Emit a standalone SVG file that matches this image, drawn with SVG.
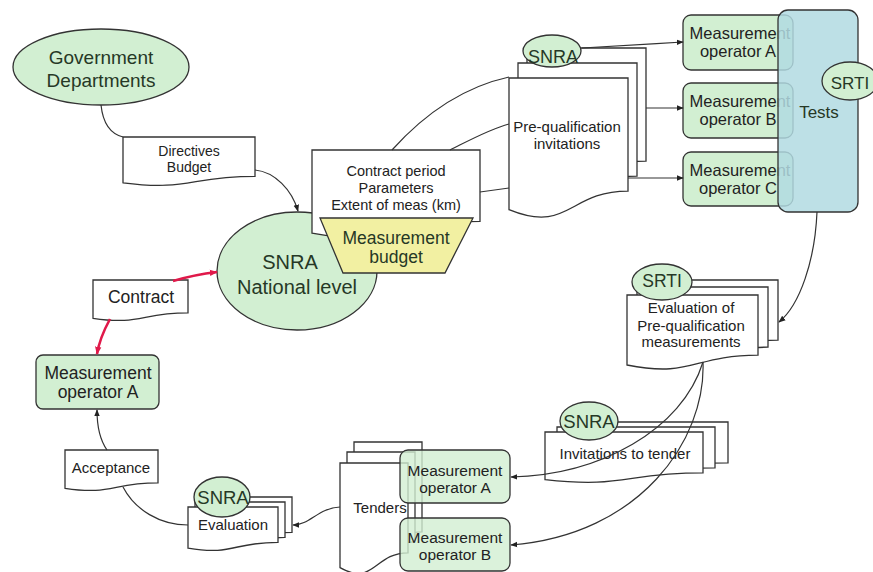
<svg xmlns="http://www.w3.org/2000/svg" width="873" height="572" viewBox="0 0 873 572">
  <defs>
    <style>
      .doc { fill: #ffffff; stroke: #333333; stroke-width: 1.3; }
      .green { fill: #d2efd2; stroke: #333333; stroke-width: 1.3; }
      .greenT { fill: #d2efd2; fill-opacity: 0.8; stroke: #333333; stroke-width: 1.3; }
      .budget { fill: #f2f0a2; stroke: #333333; stroke-width: 1.3; }
      .tests { fill: #b2dbe2; fill-opacity: 0.85; stroke: #333333; stroke-width: 1.3; }
      .t { font-family: "Liberation Sans", Arial, sans-serif; fill: #222222; text-anchor: middle; }
      .tg { font-family: "Liberation Sans", Arial, sans-serif; fill: #263826; text-anchor: middle; }
      .conn { fill: none; stroke: #333333; stroke-width: 1.2; }
      .red { fill: none; stroke: #e0194a; stroke-width: 2.6; }
    </style>
    <marker id="arr" viewBox="0 0 10 10" refX="9" refY="5" markerWidth="7" markerHeight="7" orient="auto" markerUnits="userSpaceOnUse">
      <path d="M0,1 L10,5 L0,9 Z" fill="#222222"/>
    </marker>
    <marker id="arrRed" viewBox="0 0 10 10" refX="9" refY="5" markerWidth="8" markerHeight="8" orient="auto" markerUnits="userSpaceOnUse">
      <path d="M0,1 L10,5 L0,9 Z" fill="#e0194a"/>
    </marker>
  </defs>

  <rect width="873" height="572" fill="#ffffff"/>

  <!-- Government Departments -->
  <g id="gov">
    <ellipse class="green" cx="101" cy="67" rx="88" ry="38"/>
    <text class="tg" x="101" y="64" font-size="19">Government</text>
    <text class="tg" x="101" y="87" font-size="19">Departments</text>
  </g>

  <!-- Directives / Budget document -->
  <g id="directives">
    <path class="doc" d="M123,137 H255 V176.3 C189,176.3 189,191.2 123,182.8 Z"/>
    <text class="t" x="189" y="156" font-size="14">Directives</text>
    <text class="t" x="189" y="172" font-size="14">Budget</text>
  </g>

  <!-- SNRA National level -->
  <g id="snra-national">
    <ellipse class="green" cx="297" cy="271" rx="80" ry="59"/>
    <text class="tg" x="290" y="269" font-size="20">SNRA</text>
    <text class="tg" x="297" y="294" font-size="20">National level</text>
  </g>

  <!-- Contract conditions document with budget -->
  <g id="contract-terms">
    <path class="doc" d="M312,150 H480 V221.4 C396,221.4 396,248.5 312,233.1 Z"/>
    <text class="t" x="396" y="176" font-size="14.5">Contract period</text>
    <text class="t" x="396" y="193" font-size="14.5">Parameters</text>
    <text class="t" x="396" y="210" font-size="14.5">Extent of meas (km)</text>
  </g>
  <g id="measurement-budget">
    <path class="budget" d="M320,218 H473 L445,273 H343 Z"/>
    <text class="tg" x="396" y="244" font-size="17.5">Measurement</text>
    <text class="tg" x="396" y="263" font-size="17.5">budget</text>
  </g>

  <!-- Pre-qualification invitations stack -->
  <g id="prequal-invitations">
    <path class="doc" d="M527,48 H646 V161.1 C586.5,161.1 586.5,204.1 527,179.7 Z"/>
    <path class="doc" d="M518,63 H637 V176.1 C577.5,176.1 577.5,219.1 518,194.7 Z"/>
    <path class="doc" d="M509,78 H628 V191.1 C568.5,191.1 568.5,234.1 509,209.7 Z"/>
    <text class="t" x="567" y="132" font-size="15">Pre-qualification</text>
    <text class="t" x="567" y="149" font-size="15">invitations</text>
    <ellipse class="green" cx="552" cy="51" rx="29" ry="16"/>
    <text class="tg" x="553" y="63" font-size="18">SNRA</text>
  </g>

  <!-- Operators invited to pre-qualification -->
  <g id="operator-a-top">
    <rect class="green" x="683" y="15" width="110" height="55" rx="8"/>
    <text class="t" x="740" y="39" font-size="16.5">Measurement</text>
    <text class="t" x="738" y="57" font-size="16.5">operator A</text>
  </g>
  <g id="operator-b-top">
    <rect class="green" x="683" y="83" width="110" height="55" rx="8"/>
    <text class="t" x="740" y="107" font-size="16.5">Measurement</text>
    <text class="t" x="738" y="125" font-size="16.5">operator B</text>
  </g>
  <g id="operator-c-top">
    <rect class="green" x="683" y="152" width="110" height="54" rx="8"/>
    <text class="t" x="740" y="176" font-size="16.5">Measurement</text>
    <text class="t" x="738" y="194" font-size="16.5">operator C</text>
  </g>

  <!-- SRTI tests -->
  <g id="tests">
    <rect class="tests" x="778" y="10" width="80" height="202" rx="10"/>
    <text class="tg" x="819" y="118" font-size="17">Tests</text>
    <ellipse class="green" cx="850" cy="81" rx="28" ry="19"/>
    <text class="tg" x="850" y="89" font-size="17">SRTI</text>
  </g>

  <!-- Evaluation of pre-qualification measurements -->
  <g id="prequal-evaluation">
    <path class="doc" d="M647,280 H778 V340.2 C712.5,340.2 712.5,363 647,350 Z"/>
    <path class="doc" d="M637,287 H768 V347.2 C702.5,347.2 702.5,370 637,357 Z"/>
    <path class="doc" d="M627,295 H758 V355.2 C692.5,355.2 692.5,378 627,365 Z"/>
    <text class="t" x="691" y="313" font-size="15">Evaluation of</text>
    <text class="t" x="691" y="331" font-size="15">Pre-qualification</text>
    <text class="t" x="691" y="347" font-size="15">measurements</text>
    <ellipse class="green" cx="662" cy="282" rx="30" ry="18"/>
    <text class="tg" x="662" y="287" font-size="17.5">SRTI</text>
  </g>

  <!-- Invitations to tender -->
  <g id="tender-invitations">
    <path class="doc" d="M570,422 H728 V462.9 C649,462.9 649,478.5 570,469.6 Z"/>
    <path class="doc" d="M557,427 H715 V467.9 C636,467.9 636,483.5 557,474.6 Z"/>
    <path class="doc" d="M545,432 H703 V472.9 C624,472.9 624,488.5 545,479.6 Z"/>
    <text class="t" x="625" y="459" font-size="15">Invitations to tender</text>
    <ellipse class="green" cx="589" cy="421" rx="29" ry="19"/>
    <text class="tg" x="589" y="428" font-size="18.5">SNRA</text>
  </g>

  <!-- Tenders -->
  <g id="tenders">
    <path class="doc" d="M354,442 H422 V531.8 C388,531.8 388,566 354,546.6 Z"/>
    <path class="doc" d="M347,452 H415 V541.8 C381,541.8 381,576 347,556.6 Z"/>
    <path class="doc" d="M340,463 H408 V552.8 C374,552.8 374,587 340,567.6 Z"/>
    <text class="t" x="380" y="513" font-size="15">Tenders</text>
  </g>
  <g id="operator-a-tender">
    <rect class="greenT" x="400" y="450" width="110" height="53" rx="8"/>
    <text class="t" x="455" y="476" font-size="15.5">Measurement</text>
    <text class="t" x="455" y="493" font-size="15.5">operator A</text>
  </g>
  <g id="operator-b-tender">
    <rect class="greenT" x="400" y="518" width="110" height="53" rx="8"/>
    <text class="t" x="455" y="543" font-size="15.5">Measurement</text>
    <text class="t" x="455" y="560" font-size="15.5">operator B</text>
  </g>

  <!-- Tender evaluation -->
  <g id="tender-evaluation">
    <path class="doc" d="M202,497 H292 V532.3 C247,532.3 247,545.7 202,538.1 Z"/>
    <path class="doc" d="M195,502 H285 V537.3 C240,537.3 240,550.7 195,543.1 Z"/>
    <path class="doc" d="M188,507 H278 V542.3 C233,542.3 233,555.7 188,548.1 Z"/>
    <text class="t" x="233" y="530" font-size="15">Evaluation</text>
    <ellipse class="green" cx="222" cy="497" rx="28" ry="20"/>
    <text class="tg" x="223" y="504" font-size="18.5">SNRA</text>
  </g>

  <!-- Acceptance -->
  <g id="acceptance">
    <path class="doc" d="M65,450 H158 V482.9 C111.5,482.9 111.5,495.4 65,488.3 Z"/>
    <text class="t" x="111" y="473" font-size="15">Acceptance</text>
  </g>

  <!-- Winning operator -->
  <g id="operator-a-winner">
    <rect class="green" x="36" y="355" width="123" height="54" rx="7"/>
    <text class="t" x="98" y="379" font-size="17.5">Measurement</text>
    <text class="t" x="98" y="398" font-size="17.5">operator A</text>
  </g>

  <!-- Contract -->
  <g id="contract">
    <path class="doc" d="M93,280 H188 V312.9 C140.5,312.9 140.5,325.4 93,318.3 Z"/>
    <text class="t" x="141" y="303" font-size="17.5">Contract</text>
  </g>

  <!-- Connectors -->
  <g id="connectors">
    <path class="conn" d="M101,105 C103,124 111,134 123,137"/>
    <path class="conn" d="M255,170 C275,172 292,190 298,211" marker-end="url(#arr)"/>
    <path class="conn" d="M392,150 C428,110 468,86 509,77"/>
    <path class="conn" d="M450,150 C470,140 490,129 509,124"/>
    <path class="conn" d="M480,192 L509,188"/>
    <path class="conn" d="M582,48 C620,46 650,44 683,42" marker-end="url(#arr)"/>
    <path class="conn" d="M646,108 H683" marker-end="url(#arr)"/>
    <path class="conn" d="M628,178 H683" marker-end="url(#arr)"/>
    <path class="conn" d="M817,212 C815,260 800,305 779,322" marker-end="url(#arr)"/>
    <path class="conn" d="M703,362 C682,430 600,475 511,477" marker-end="url(#arr)"/>
    <path class="conn" d="M703,362 C706,440 640,535 511,545" marker-end="url(#arr)"/>
    <path class="conn" d="M340,507 C318,508 310,525 293,525" marker-end="url(#arr)"/>
    <path class="conn" d="M188,525 C160,525 135,510 123,487"/>
    <path class="conn" d="M107,450 C100,440 97,426 97,410" marker-end="url(#arr)"/>
    <path class="red" d="M110,319 C104,330 99,342 97,354" marker-end="url(#arrRed)"/>
    <path class="red" d="M173,281 C190,276 200,274 217,272" marker-end="url(#arrRed)"/>
  </g>
</svg>
